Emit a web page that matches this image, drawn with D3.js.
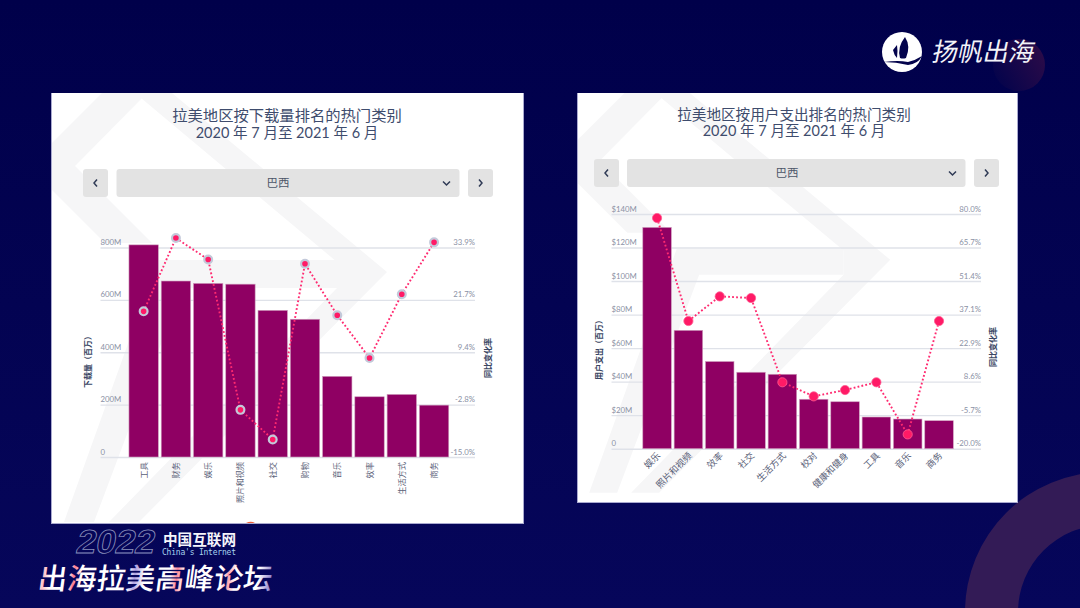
<!DOCTYPE html>
<html>
<head>
<meta charset="utf-8">
<script src="https://cdn.jsdelivr.net/npm/d3@7"></script>
<style>
	html, body { margin: 0; padding: 0; background: #03034c; overflow: hidden; }
	svg { display: block; }
	text { font-family: Lato, "Noto Sans CJK SC", sans-serif; }
</style>
</head>
<body>
<div id="chart"></div>
<script>
// ********** DATA **********

// Left chart: downloads
const dlCategories = ['工具', '财务', '娱乐', '照片和视频', '社交', '购物', '音乐', '效率', '生活方式', '商务'];
const dlValues = [810, 672, 663, 660, 560, 526, 308, 230, 239, 198];
const dlChange = [19.0, 36.1, 31.1, -4.0, -10.9, 30.1, 18.1, 8.1, 23.0, 35.1];
const dlTicks = [0, 200, 400, 600, 800];
const dlTickLabels = ['0', '200M', '400M', '600M', '800M'];
const dlChangeTicks = [-15.0, -2.8, 9.4, 21.7, 33.9];

// Right chart: user spend
const spendCategories = ['娱乐', '照片和视频', '效率', '社交', '生活方式', '校对', '健康和健身', '工具', '音乐', '商务'];
const spendValues = [132, 70.6, 52, 45.6, 44.4, 29.5, 28, 18.9, 17.7, 16.7];
const spendChange = [78.3, 34.4, 44.9, 44.2, 8.3, 2.3, 5.0, 8.3, -13.9, 34.4];
const spendTicks = [0, 20, 40, 60, 80, 100, 120, 140];
const spendTickLabels = ['0', '$20M', '$40M', '$60M', '$80M', '$100M', '$120M', '$140M'];
const spendChangeTicks = [-20.0, -5.7, 8.6, 22.9, 37.1, 51.4, 65.7, 80.0];

// ********** STYLE **********

const barColor = '#8f0063';
const dotColor = '#ff1a66';
const titleColor = '#3e4c6d';
const tickColor = '#8b91a5';
const gridColor = '#dfe2e9';
const cjk = '"Noto Sans CJK SC", sans-serif';

const svg = d3.select('#chart')
	.append('svg')
	.attr('width', 1080)
	.attr('height', 608);

const defs = svg.append('defs');

// ********** BACKGROUND **********

const addGradient = (id, stops, x1, y1, x2, y2) => {
	const g = defs.append('linearGradient')
		.attr('id', id)
		.attr('gradientUnits', 'userSpaceOnUse')
		.attr('x1', x1).attr('y1', y1)
		.attr('x2', x2).attr('y2', y2);
	stops.forEach(s => g.append('stop').attr('offset', s[0]).attr('stop-color', s[1]));
};

addGradient('bgGrad', [[0, '#00004a'], [1, '#06065a']], 0, 0, 0, 608);
addGradient('ringGrad', [[0, '#331b56'], [1, '#28094f']], 0, 480, 0, 608);
addGradient('blobGrad', [[0, '#03034c'], [1, '#2c0b48']], 993, 80, 1045, 50);
// Gradient runs in the text's own coordinates, so it starts at 0
addGradient('forumGrad', [
	[0, '#ffffff'], [0.02, '#ffc0c8'], [0.05, '#ffffff'], [0.125, '#ffffff'], [0.15, '#ff7a8c'], [0.18, '#ffffff'],
	[0.38, '#ffffff'], [0.41, '#b0a4e4'], [0.45, '#ffffff'], [0.56, '#ffffff'], [0.59, '#ff8a9a'], [0.62, '#ffffff'],
	[0.78, '#ffffff'], [0.81, '#ffa0ac'], [0.84, '#ffffff'], [0.94, '#ffffff'], [1, '#8878c8']
], 0, 0, 234, 0);

svg.append('rect').attr('width', 1080).attr('height', 608).attr('fill', 'url(#bgGrad)');

svg.append('path')
	.attr('fill', 'url(#ringGrad)')
	.attr('fill-rule', 'evenodd')
	.attr('d', d3.arc()({ innerRadius: 87, outerRadius: 140, startAngle: 0, endAngle: Math.PI * 2 }))
	.attr('transform', 'translate(1105, 612)');

svg.append('circle')
	.attr('cx', 1019).attr('cy', 65).attr('r', 26)
	.attr('fill', 'url(#blobGrad)');

// ********** CHART CARD **********

// Pale arrow shapes behind each card, in card coordinates of the left card
const watermarks = [
	[[0, 50], [50, 0], [95, 0], [23, 73], [100, 150], [53, 150], [0, 97]],
	[[83, 0], [120, 0], [335, 179], [87, 429], [57, 429], [285, 195], [285, 169]],
	[[12, 429], [106, 167], [285, 167], [285, 195], [130, 195], [42, 429]]
];

const drawCard = (cfg) => {
	const card = svg.append('g');

	card.append('rect')
		.attr('x', cfg.card.x - 1).attr('y', cfg.card.y)
		.attr('width', cfg.card.w + 2).attr('height', cfg.card.h + 1)
		.attr('fill', '#a9a9cf');
	card.append('rect')
		.attr('x', cfg.card.x).attr('y', cfg.card.y)
		.attr('width', cfg.card.w).attr('height', cfg.card.h)
		.attr('fill', '#fff');

	const clipId = `clip-${cfg.id}`;
	defs.append('clipPath').attr('id', clipId)
		.append('rect')
		.attr('x', cfg.card.x).attr('y', cfg.card.y)
		.attr('width', cfg.card.w).attr('height', cfg.card.h);

	card.append('g')
		.attr('clip-path', `url(#${clipId})`)
		.append('g')
		.attr('transform', `translate(${cfg.card.x}, ${cfg.card.y}) scale(${cfg.card.w / 471})`)
		.selectAll('polygon')
		.data(watermarks)
		.enter()
		.append('polygon')
		.attr('points', d => d.join(' '))
		.attr('fill', '#f6f6f7');

	// Titles
	card.append('text')
		.attr('x', cfg.titleX).attr('y', cfg.titleY)
		.attr('text-anchor', 'middle')
		.attr('font-size', cfg.titleSize)
		.attr('fill', titleColor)
		.style('font-family', cjk)
		.text(cfg.title);
	card.append('text')
		.attr('x', cfg.titleX).attr('y', cfg.titleY + 16.5)
		.attr('text-anchor', 'middle')
		.attr('font-size', 14.5)
		.attr('fill', titleColor)
		.text('2020 年 7 月至 2021 年 6 月');

	// Fake dropdown row
	const nav = cfg.nav;
	[[nav.prev, nav.prev + 25], [nav.selL, nav.selR], [nav.next, nav.next + 25]].forEach(b => {
		card.append('rect')
			.attr('x', b[0]).attr('y', nav.y)
			.attr('width', b[1] - b[0]).attr('height', 28)
			.attr('rx', 3)
			.attr('fill', '#e3e3e3');
	});
	card.append('text')
		.attr('x', nav.labelX).attr('y', nav.y + 18)
		.attr('text-anchor', 'middle')
		.attr('font-size', 11.5)
		.attr('fill', '#4b5568')
		.style('font-family', cjk)
		.text('巴西');
	const cy = nav.y + 14;
	const chevrons = [
		`M${nav.prev + 14},${cy - 3.5}l-3,3.5l3,3.5`,
		`M${nav.next + 11},${cy - 3.5}l3,3.5l-3,3.5`,
		`M${nav.selR - 16.5},${cy - 1.5}l3.5,3.5l3.5,-3.5`
	];
	card.selectAll('path.chev')
		.data(chevrons)
		.enter()
		.append('path')
		.attr('class', 'chev')
		.attr('d', d => d)
		.attr('fill', 'none')
		.attr('stroke', '#2f3a55')
		.attr('stroke-width', 1.5);

	// Scales
	const x = d3.scaleBand()
		.domain(cfg.categories)
		.range(cfg.barRange)
		.paddingInner(0.09)
		.paddingOuter(0.045);
	const y = d3.scaleLinear()
		.domain([cfg.ticks[0], cfg.ticks[cfg.ticks.length - 1]])
		.range([cfg.bottom, cfg.top]);
	const yChange = d3.scaleLinear()
		.domain([cfg.changeTicks[0], cfg.changeTicks[cfg.changeTicks.length - 1]])
		.range([cfg.bottom, cfg.top]);

	// Left axis doubles as the grid lines
	const leftAxis = card.append('g')
		.attr('transform', `translate(${cfg.gridL}, 0)`)
		.call(d3.axisRight(y)
			.tickValues(cfg.ticks)
			.tickFormat((d, i) => cfg.tickLabels[i])
			.tickSize(cfg.gridR - cfg.gridL));
	leftAxis.select('.domain').remove();
	leftAxis.selectAll('line')
		.attr('stroke', gridColor)
		.attr('stroke-width', 1.4);
	leftAxis.selectAll('text')
		.attr('x', 0)
		.attr('y', -3)
		.attr('dy', 0)
		.attr('text-anchor', 'start')
		.attr('font-size', 7.8)
		.attr('fill', tickColor);

	const rightAxis = card.append('g')
		.attr('transform', `translate(${cfg.gridR}, 0)`)
		.call(d3.axisLeft(yChange)
			.tickValues(cfg.changeTicks)
			.tickFormat(d => `${d.toFixed(1)}%`)
			.tickSize(0));
	rightAxis.select('.domain').remove();
	rightAxis.selectAll('text')
		.attr('x', 0)
		.attr('y', -3)
		.attr('dy', 0)
		.attr('text-anchor', 'end')
		.attr('font-size', 7.8)
		.attr('fill', tickColor);

	// Bars
	card.selectAll('rect.bar')
		.data(cfg.values)
		.enter()
		.append('rect')
		.attr('class', 'bar')
		.attr('x', (d, i) => x(cfg.categories[i]))
		.attr('y', d => y(d))
		.attr('width', x.bandwidth())
		.attr('height', d => cfg.bottom - y(d))
		.attr('fill', barColor)
		.attr('stroke', '#cf9dbd')
		.attr('stroke-width', 0.6);

	// Category labels
	const catAxis = card.append('g')
		.attr('transform', `translate(0, ${cfg.bottom})`)
		.call(d3.axisBottom(x).tickSize(0));
	catAxis.select('.domain').remove();
	catAxis.selectAll('text')
		.attr('x', 0)
		.attr('y', 0)
		.attr('dy', 0)
		.attr('text-anchor', 'end')
		.attr('transform', `translate(${cfg.catDx}, ${cfg.catDy}) rotate(${cfg.catAngle})`)
		.attr('font-size', cfg.catSize)
		.attr('fill', '#5a6178')
		.style('font-family', cjk);

	// Change line and dots
	const line = d3.line()
		.x((d, i) => x(cfg.categories[i]) + x.bandwidth() / 2)
		.y(d => yChange(d));

	card.append('path')
		.datum(cfg.change)
		.attr('d', line)
		.attr('fill', 'none')
		.attr('stroke', '#ff2a70')
		.attr('stroke-width', 1.9)
		.attr('stroke-dasharray', '1.8 2.2');

	card.selectAll('circle.dot')
		.data(cfg.change)
		.enter()
		.append('circle')
		.attr('class', 'dot')
		.attr('cx', (d, i) => x(cfg.categories[i]) + x.bandwidth() / 2)
		.attr('cy', d => yChange(d))
		.attr('r', cfg.dotR)
		.attr('fill', dotColor)
		.attr('stroke', cfg.dotStroke)
		.attr('stroke-width', cfg.dotStrokeW);

	// Axis titles
	[[cfg.yTitleX, cfg.yTitle, cfg.yTitleY], [cfg.rTitleX, '同比变化率', cfg.rTitleY]].forEach(t => {
		card.append('text')
			.attr('transform', `translate(${t[0]}, ${t[2]}) rotate(-90)`)
			.attr('text-anchor', 'middle')
			.attr('font-size', 8)
			.attr('font-weight', 700)
			.attr('fill', '#3a4663')
			.style('font-family', cjk)
			.text(t[1]);
	});
};

drawCard({
	id: 'downloads',
	card: { x: 52, y: 93, w: 471, h: 430 },
	title: '拉美地区按下载量排名的热门类别',
	titleX: 287, titleY: 121, titleSize: 15.3,
	nav: { y: 169, prev: 83, selL: 116.5, selR: 459.5, next: 468, labelX: 278 },
	categories: dlCategories,
	values: dlValues,
	change: dlChange,
	ticks: dlTicks,
	tickLabels: dlTickLabels,
	changeTicks: dlChangeTicks,
	barRange: [127.5, 450.2],
	gridL: 100.5, gridR: 475,
	top: 247.5, bottom: 457,
	catDx: 3, catDy: 5, catAngle: -90, catSize: 8.2,
	dotR: 3.9, dotStroke: '#c3c9da', dotStrokeW: 2.2,
	yTitle: '下载量（百万）',
	yTitleX: 91, yTitleY: 360,
	rTitleX: 491, rTitleY: 358
});

drawCard({
	id: 'spend',
	card: { x: 578, y: 93, w: 439, h: 409 },
	title: '拉美地区按用户支出排名的热门类别',
	titleX: 794, titleY: 119.5, titleSize: 14.6,
	nav: { y: 159, prev: 594, selL: 627, selR: 965.5, next: 974, labelX: 787 },
	categories: spendCategories,
	values: spendValues,
	change: spendChange,
	ticks: spendTicks,
	tickLabels: spendTickLabels,
	changeTicks: spendChangeTicks,
	barRange: [641.4, 954.7],
	gridL: 611.5, gridR: 981,
	top: 214, bottom: 448.7,
	catDx: 4, catDy: 7.5, catAngle: -45, catSize: 9.2,
	dotR: 4.6, dotStroke: '#ff5a90', dotStrokeW: 0.8,
	yTitle: '用户支出（百万）',
	yTitleX: 602, yTitleY: 348,
	rTitleX: 996, rTitleY: 347
});

// Small scrap of slide art poking out under the left card
svg.append('path')
	.attr('d', 'M246,523q5,-2.5 9,0z')
	.attr('fill', '#f0603a');

// ********** LOGO **********

const logo = svg.append('g');
logo.append('circle').attr('cx', 902).attr('cy', 52).attr('r', 20).attr('fill', '#fff');
logo.append('path')
	.attr('d', 'M905,37q6,9 1,21q-3,1 -6,0q-3,-11 5,-21zM893,50l4,-5q1,6 0,13q-3,-3 -4,-8z')
	.attr('fill', '#03034c');
logo.append('path')
	.attr('d', 'M884,62q14,-2 24,0q8,-2 14,-6q-4,8 -14,9q-12,-3 -24,-3z')
	.attr('fill', '#03034c');
logo.append('text')
	.attr('transform', 'translate(931, 61) skewX(-12)')
	.attr('font-size', 25.5)
	.attr('font-weight', 400)
	.attr('fill', '#f3f3f8')
	.style('font-family', cjk)
	.text('扬帆出海');

// ********** FORUM TITLE **********

const forum = svg.append('g');
forum.append('text')
	.attr('transform', 'translate(75, 553) skewX(-12)')
	.attr('font-size', 33)
	.attr('font-weight', 700)
	.attr('textLength', 78)
	.attr('lengthAdjust', 'spacingAndGlyphs')
	.attr('fill', 'none')
	.attr('stroke', '#8c92bc')
	.attr('stroke-width', 0.8)
	.style('font-family', '"Liberation Sans", sans-serif')
	.text('2022');
forum.append('text')
	.attr('x', 163).attr('y', 544.5)
	.attr('font-size', 14.6)
	.attr('font-weight', 700)
	.attr('fill', '#f5f5fb')
	.style('font-family', cjk)
	.text('中国互联网');
forum.append('text')
	.attr('x', 162).attr('y', 554.5)
	.attr('font-size', 8)
	.attr('textLength', 74)
	.attr('fill', '#a6d4f0')
	.style('font-family', '"DejaVu Sans Mono", monospace')
	.text("China's Internet");
forum.append('text')
	.attr('transform', 'translate(37, 589) skewX(-8)')
	.attr('font-size', 29)
	.attr('font-weight', 500)
	.attr('fill', 'url(#forumGrad)')
	.attr('textLength', 234)
	.style('font-family', cjk)
	.text('出海拉美高峰论坛');
</script>
</body>
</html>
